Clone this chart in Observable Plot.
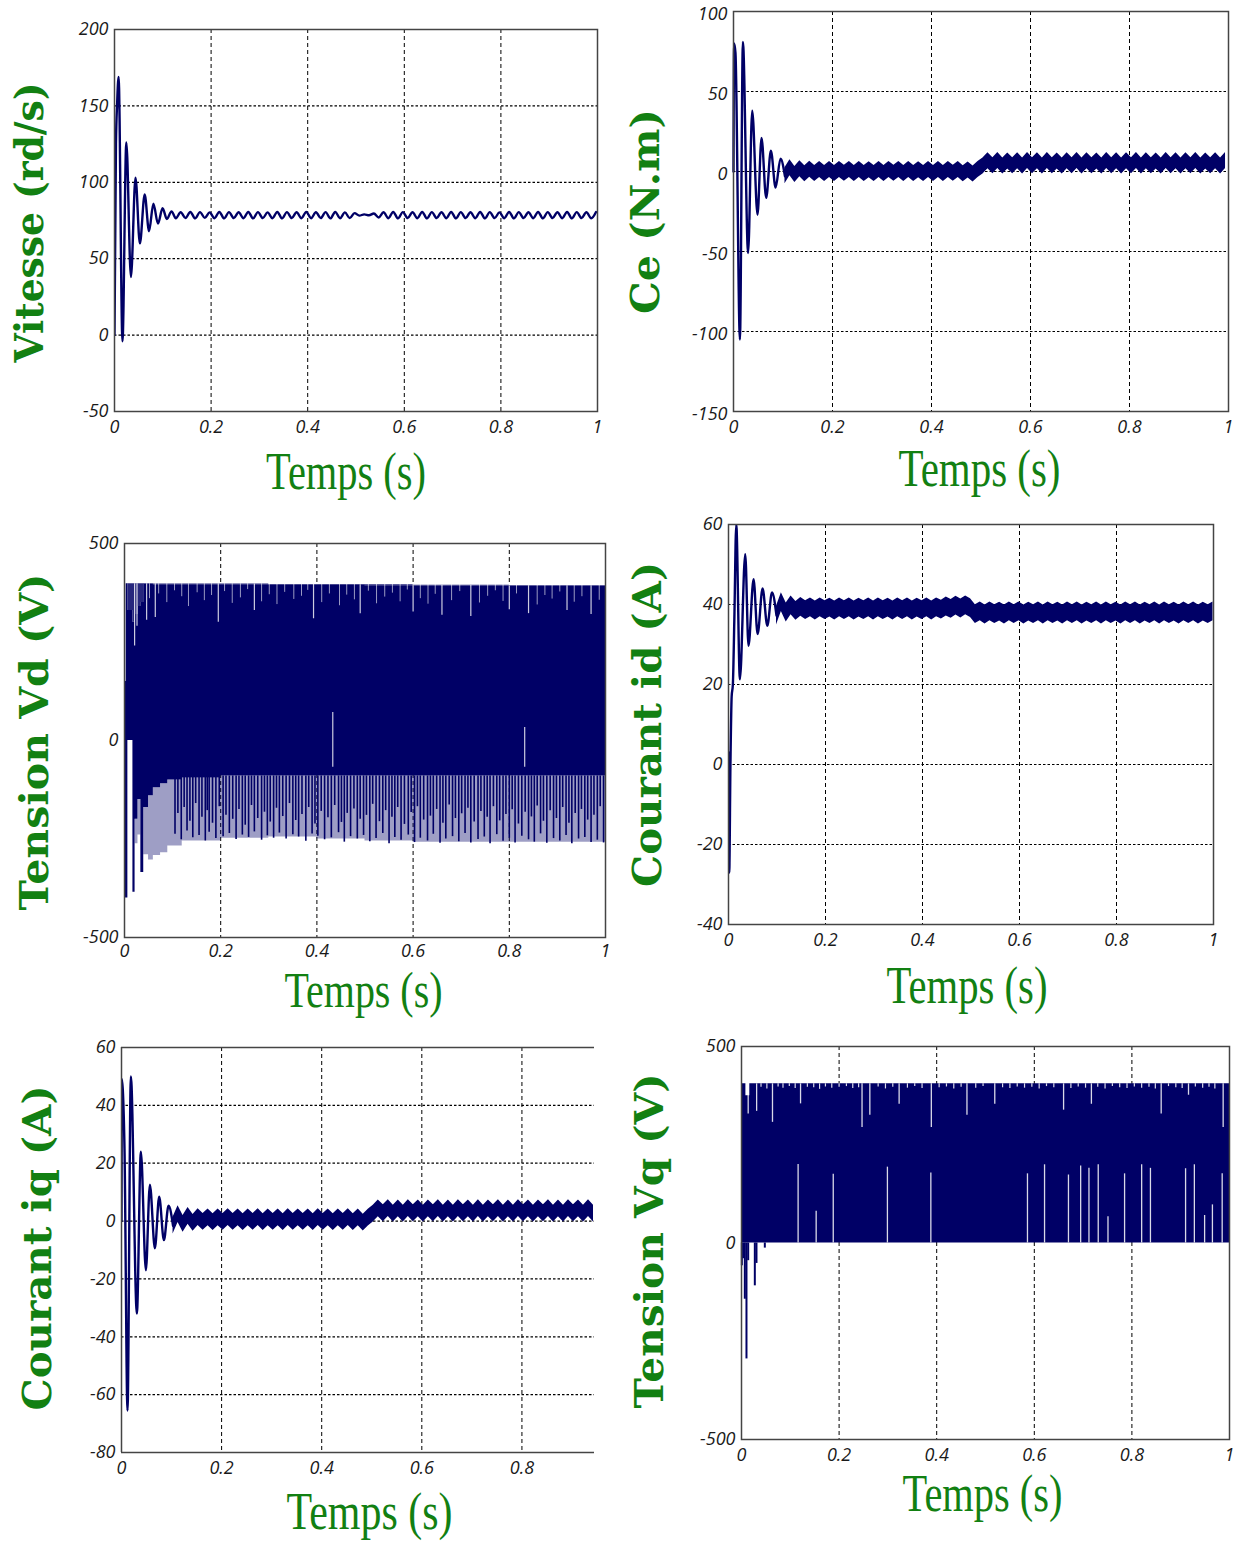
<!DOCTYPE html>
<html>
<head>
<meta charset="utf-8">
<script src="https://cdn.jsdelivr.net/npm/d3@7"></script>
<script src="https://cdn.jsdelivr.net/npm/@observablehq/plot@0.6"></script>
<style>
  html, body { margin: 0; padding: 0; background: #fff; }
  #fig { position: relative; width: 1236px; height: 1546px; overflow: hidden; background: #fff; }
  #fig svg { position: absolute; max-width: none !important; }
</style>
</head>
<body>
<div id="fig"></div>
<script>
// ---------------- labels & ticks ----------------
const xLabel = "Temps (s)";
const yLabels = ["Vitesse (rd/s)", "Ce (N.m)", "Tension Vd (V)", "Courant id (A)", "Courant iq (A)", "Tension Vq (V)"];
const xTicks = [0, 0.2, 0.4, 0.6, 0.8, 1];
const xTicksIq = [0, 0.2, 0.4, 0.6, 0.8];
const xGridTicks = [0.2, 0.4, 0.6, 0.8];
const yTicksSpeed = [-50, 0, 50, 100, 150, 200];
const yTicksCe = [-150, -100, -50, 0, 50, 100];
const yTicksV = [-500, 0, 500];
const yTicksId = [-40, -20, 0, 20, 40, 60];
const yTicksIq = [-80, -60, -40, -20, 0, 20, 40, 60];

// ---------------- Vitesse ----------------
const speedTransT = [0, 0.003, 0.0055, 0.0085, 0.0165, 0.0245, 0.034, 0.0435, 0.0525, 0.0625, 0.0715, 0.0805, 0.090, 0.0995, 0.1085, 0.118, 0.127];
const speedTransV = [0, 125, 152, 169, -4, 126, 38, 103, 60, 92, 68, 86, 73, 83, 76, 81, 76.5];
const speedRippleStart = 0.137, sampleStep = 0.01;
const speedRipple = [
  80.4, 76.6, 80.6, 76.4, 80.5, 76.7, 80.3, 76.5, 80.6, 76.4,
  80.5, 76.6, 80.4, 76.5, 80.6, 76.4, 80.5, 76.6, 80.3, 76.5,
  80.6, 76.4, 80.5, 76.6, 80.4, 76.5, 80.6, 76.5, 80.4, 76.6,
  80.5, 76.4, 80.6, 76.5, 80.3, 76.6, 79.8, 78.2, 79.0, 78.4,
  79.6, 77.0, 80.4, 76.5, 80.6, 76.4, 80.5, 76.6, 80.4, 76.5,
  80.6, 76.4, 80.5, 76.6, 80.4, 76.5, 80.6, 76.4, 80.5, 76.6,
  80.4, 76.5, 80.6, 76.4, 80.5, 76.6, 80.3, 76.5, 80.6, 76.4,
  80.5, 76.6, 80.4, 76.5, 80.6, 76.4, 80.5, 76.6, 80.4, 76.5,
  80.6, 76.4, 80.5, 76.6, 80.4, 76.5, 80.6
];

// ---------------- Ce ----------------
const ceTransT = [0, 0.0012, 0.004, 0.013, 0.019, 0.0295, 0.0378, 0.0485, 0.0566, 0.066, 0.0755, 0.085, 0.095, 0.104];
const ceTransV = [0, 80, 74, -105, 81, -51, 38, -27, 21, -16.5, 13, -10, 8, -3];
const ceBandStart = 0.104;
const ceBand = [
  -2.6, 2.3, -1.9, 1.7, -1.4, 1.4, -1.2, 1.3, -1.2, 1.2,
  -1.3, 1.2, -1.1, 1.3, -1.2, 1.2, -1.3, 1.1, -1.2, 1.3,
  -1.2, 1.2, -1.1, 1.2, -1.3, 1.3, -1.2, 1.1, -1.2, 1.2,
  -1.3, 1.2, -1.2, 1.3, -1.1, 1.2, -1.4, 1.0, -1.6, 1.2,
  3.4, 6.7, 3.6, 6.8, 3.5, 6.6, 3.6, 6.7, 3.4, 6.8,
  3.6, 6.7, 3.5, 6.8, 3.6, 6.6, 3.4, 6.7, 3.6, 6.8,
  3.5, 6.7, 3.6, 6.6, 3.4, 6.8, 3.6, 6.7, 3.5, 6.7,
  3.6, 6.8, 3.4, 6.7, 3.6, 6.6, 3.5, 6.8, 3.6, 6.7,
  3.4, 6.7, 3.6, 6.8, 3.5, 6.6, 3.6, 6.7, 3.4, 6.8
];

// ---------------- id ----------------
const idTransT = [0, 0.0015, 0.004, 0.0065, 0.009, 0.012, 0.016, 0.0235, 0.0345, 0.0412, 0.0517, 0.060, 0.0703, 0.080, 0.0897, 0.099];
const idTransV = [3, -27, 0, 17, 20, 36, 60, 21.3, 52.6, 29.7, 46.3, 32.6, 44, 34.7, 43, 37.2];
const idBandStart = 0.099;
const idBand = [
  37.2, 40.6, 38.0, 39.8, 38.4, 39.4, 38.6, 39.3, 38.5, 39.3,
  38.6, 39.2, 38.5, 39.3, 38.6, 39.3, 38.5, 39.2, 38.6, 39.3,
  38.5, 39.3, 38.6, 39.2, 38.5, 39.3, 38.6, 39.3, 38.5, 39.2,
  38.6, 39.3, 38.5, 39.3, 38.7, 39.5, 38.9, 39.7, 39.0, 39.8,
  39.1, 37.6, 38.3, 37.5, 38.3, 37.6, 38.2, 37.5, 38.3, 37.6,
  38.3, 37.5, 38.2, 37.6, 38.3, 37.5, 38.3, 37.6, 38.2, 37.5,
  38.3, 37.6, 38.3, 37.5, 38.2, 37.6, 38.3, 37.5, 38.3, 37.6,
  38.2, 37.5, 38.3, 37.6, 38.3, 37.5, 38.2, 37.6, 38.3, 37.5,
  38.3, 37.6, 38.2, 37.5, 38.3, 37.6, 38.3, 37.5, 38.2, 37.6, 38.3
];

// ---------------- iq ----------------
const iqTransT = [0, 0.0008, 0.003, 0.006, 0.012, 0.0187, 0.0307, 0.0387, 0.0487, 0.0567, 0.0667, 0.0753, 0.0847, 0.094, 0.103];
const iqTransV = [0, 49, 44, 25, -65.5, 50, -32, 24, -17, 12.6, -9.4, 8.4, -6.6, 5.3, -1.6];
const iqBandStart = 0.103;
const iqBand = [
  -1.6, 2.4, -1.0, 1.8, -0.6, 1.4, -0.3, 1.3, -0.4, 1.3,
  -0.3, 1.4, -0.3, 1.3, -0.4, 1.3, -0.3, 1.4, -0.4, 1.3,
  -0.3, 1.3, -0.4, 1.4, -0.3, 1.3, -0.3, 1.3, -0.4, 1.4,
  -0.3, 1.3, -0.4, 1.3, -0.3, 1.4, -0.4, 1.3, -0.5, 1.2,
  2.6, 4.4, 2.7, 4.5, 2.6, 4.4, 2.6, 4.5, 2.7, 4.4,
  2.6, 4.4, 2.7, 4.5, 2.6, 4.4, 2.6, 4.5, 2.7, 4.4,
  2.6, 4.5, 2.6, 4.4, 2.7, 4.5, 2.6, 4.4, 2.6, 4.5,
  2.7, 4.4, 2.6, 4.4, 2.7, 4.5, 2.6, 4.4, 2.6, 4.5,
  2.7, 4.4, 2.6, 4.5, 2.6
];

// ---------------- Vd (envelopes of the switching voltage) ----------------
const vdT         = [0,    0.0035, 0.007, 0.0175, 0.022, 0.028, 0.034, 0.040, 0.050, 0.060, 0.075, 0.090, 0.120, 0.200, 0.300, 0.400, 0.500, 0.600, 0.700, 0.800, 0.900, 1.000];
const vdOuterHigh = [150,  398,    398,   398,    398,   398,   398,   398,   398,   397,   397,   397,   397,   397,   396,   396,   395,   394,   394,   393,   393,   393];
const vdCoreHigh  = [150,  398,    330,   300,    320,   340,   350,   396,   396,   395,   395,   395,   395,   395,   394,   394,   393,   392,   392,   391,   391,   391];
const vdCoreLow   = [-400, -400,   0,     -385,   -200,  -150,  -335,  -170,  -140,  -120,  -110,  -100,  -95,   -90,   -90,   -90,   -90,   -90,   -90,   -90,   -90,   -90];
const vdOuterLow  = [-400, -400,   0,     -385,   -262,  -240,  -335,  -290,  -303,  -292,  -285,  -268,  -255,  -248,  -245,  -250,  -255,  -258,  -258,  -258,  -258,  -258];
const vdSpikeFrom = -90;
const vdSpikeT = [
  0.105, 0.118, 0.130, 0.142, 0.155, 0.168, 0.176, 0.190, 0.205, 0.218,
  0.232, 0.245, 0.258, 0.270, 0.285, 0.297, 0.310, 0.322, 0.336, 0.350,
  0.362, 0.377, 0.390, 0.402, 0.416, 0.430, 0.445, 0.457, 0.470, 0.484,
  0.497, 0.510, 0.523, 0.537, 0.550, 0.562, 0.575, 0.590, 0.603, 0.615,
  0.630, 0.642, 0.656, 0.668, 0.682, 0.695, 0.708, 0.720, 0.735, 0.748,
  0.760, 0.774, 0.787, 0.800, 0.812, 0.826, 0.840, 0.852, 0.865, 0.878,
  0.892, 0.905, 0.918, 0.930, 0.944, 0.957, 0.970, 0.983, 0.996
];
const vdSpikeV = [
  -238, -252, -230, -247, -241, -255, -233, -249, -244, -236,
  -251, -240, -246, -232, -253, -242, -248, -235, -250, -239,
  -245, -256, -237, -243, -252, -247, -234, -258, -244, -250,
  -241, -257, -249, -236, -262, -246, -253, -240, -259, -248,
  -255, -238, -261, -250, -244, -257, -236, -260, -251, -245,
  -262, -239, -256, -248, -260, -243, -252, -258, -237, -261,
  -249, -255, -241, -262, -250, -246, -259, -253, -260
];
const vdSpikeBT = [
  0.111, 0.124, 0.136, 0.148, 0.161, 0.172, 0.183, 0.197, 0.211, 0.225,
  0.238, 0.251, 0.264, 0.277, 0.291, 0.303, 0.316, 0.329, 0.343, 0.356,
  0.369, 0.383, 0.396, 0.409, 0.423, 0.437, 0.451, 0.463, 0.477, 0.490,
  0.503, 0.516, 0.530, 0.543, 0.556, 0.568, 0.582, 0.596, 0.609, 0.622,
  0.636, 0.649, 0.662, 0.675, 0.688, 0.701, 0.714, 0.727, 0.741, 0.754,
  0.767, 0.780, 0.793, 0.806, 0.819, 0.833, 0.846, 0.858, 0.871, 0.885,
  0.898, 0.911, 0.924, 0.937, 0.950, 0.963, 0.976, 0.989
];
const vdSpikeBV = [
  -185, -170, -205, -160, -195, -178, -210, -168, -190, -200,
  -175, -215, -165, -198, -182, -207, -172, -193, -160, -203,
  -188, -170, -212, -180, -196, -165, -208, -185, -174, -200,
  -190, -162, -206, -178, -195, -170, -213, -183, -168, -202,
  -192, -175, -210, -164, -198, -186, -172, -207, -180, -195,
  -168, -204, -188, -176, -212, -182, -194, -166, -205, -178,
  -198, -170, -210, -185, -175, -202, -190, -168
];
const vdTopGapT = [
  0.052, 0.071, 0.088, 0.104, 0.119, 0.133, 0.151, 0.166, 0.181, 0.208,
  0.224, 0.241, 0.256, 0.285, 0.301, 0.317, 0.333, 0.352, 0.368, 0.381,
  0.410, 0.426, 0.447, 0.462, 0.478, 0.507, 0.524, 0.541, 0.557, 0.573,
  0.588, 0.615, 0.631, 0.646, 0.680, 0.697, 0.738, 0.755, 0.771, 0.787,
  0.815, 0.858, 0.874, 0.889, 0.905, 0.935, 0.951, 0.987
];
const vdTopGapV = [
  360, 372, 350, 380, 365, 340, 375, 355, 368, 378,
  348, 362, 383, 352, 370, 345, 376, 358, 366, 381,
  350, 372, 342, 369, 357, 379, 347, 364, 374, 352,
  382, 360, 346, 371, 355, 378, 349, 366, 380, 353,
  372, 344, 368, 359, 377, 351, 365, 356
];
const vdGapT  = [0.433, 0.832, 0.021, 0.026, 0.046, 0.064, 0.195, 0.270, 0.393, 0.490, 0.600, 0.660, 0.720, 0.800, 0.840, 0.920, 0.970];
const vdGapLo = [-68,   -68,   240,   290,   305,   312,   300,   330,   309,   322,   326,   318,   315,   332,   322,   330,   320];
const vdGapHi = [71,    33,    398,   398,   398,   398,   398,   397,   396,   395,   394,   394,   394,   393,   393,   393,   393];

// ---------------- Vq ----------------
const vqT    = [0.002, 0.009, 0.017, 1.0];
const vqHigh = [405,   375,   405,   405];
const vqLow  = [0,     0,     0,     0];
const vqNegT = [0.0007, 0.004, 0.0068, 0.0102, 0.0137, 0.0273, 0.0307, 0.0478];
const vqNegV = [-58,    -40,   -143,   -295,   -45,    -109,   -52,    -13];
const vqTopGapT = [0.0137, 0.031, 0.0635, 0.121, 0.247, 0.263, 0.323, 0.389, 0.462, 0.519, 0.660, 0.717, 0.860, 0.916, 0.987];
const vqTopGapV = [328,    335,   307,    354,   294,   325,   353,   294,   325,   353,   338,   353,   328,   376,   294];
const vqNotchT = [
  0.040, 0.052, 0.075, 0.085, 0.098, 0.110, 0.135, 0.148, 0.160, 0.172,
  0.185, 0.200, 0.215, 0.228, 0.240, 0.280, 0.295, 0.310, 0.340, 0.355,
  0.370, 0.405, 0.420, 0.435, 0.450, 0.480, 0.495, 0.535, 0.550, 0.565,
  0.580, 0.595, 0.610, 0.625, 0.640, 0.675, 0.690, 0.705, 0.730, 0.745,
  0.760, 0.775, 0.790, 0.805, 0.820, 0.835, 0.848, 0.875, 0.890, 0.903,
  0.930, 0.945, 0.958, 0.970
];
const vqNotchV = [
  396, 392, 397, 394, 398, 393, 396, 395, 391, 397,
  394, 396, 398, 393, 395, 397, 392, 396, 394, 398,
  393, 395, 397, 392, 396, 394, 398, 395, 393, 397,
  394, 396, 392, 398, 395, 393, 397, 394, 396, 392,
  398, 395, 393, 397, 394, 396, 392, 398, 395, 393,
  397, 394, 396, 392
];
const vqBotGapT = [0.116, 0.153, 0.188, 0.299, 0.388, 0.586, 0.621, 0.670, 0.695, 0.712, 0.731, 0.751, 0.785, 0.820, 0.838, 0.910, 0.928, 0.949, 0.965, 0.985];
const vqBotGapV = [200,   81,    175,   193,   178,   176,   199,   173,   196,   190,   199,   67,    176,   199,   190,   189,   199,   70,    97,    176];

// ---------------- styles ----------------
const NAVY = "#000066";
const GREEN = "#128012";
const FRAME = "#444";
// half thickness (in data units) of the dense switching-ripple bands
const CE_HALF = 5.0, ID_HALF = 2.35, IQ_HALF = 2.9;

const pts = (ts, vs) => ts.map((t, i) => ({t, v: vs[i]}));
const sampled = (start, vs) => vs.map((v, i) => ({t: +(start + i * sampleStep).toFixed(4), v}));
const band = (rows, half) => Plot.areaY(rows, {x: "t", y1: d => d.v - half, y2: d => d.v + half, fill: NAVY, clip: true});

function build(p) {
  const marks = [
    Plot.gridX(p.xGrid, {stroke: "#000", strokeOpacity: 1, strokeWidth: 1, strokeDasharray: "4,3"}),
    ...(p.yGrid ? [Plot.gridY(p.yGrid, {stroke: "#000", strokeOpacity: 1, strokeWidth: 1.2, strokeDasharray: "2.5,2"})] : []),
    ...p.marks,
    ...(p.frameMarks || [Plot.frame({stroke: FRAME, strokeWidth: 1.5})]),
    Plot.axisX(p.xTicks, {tickSize: 0, tickPadding: p.xPad ?? 9, tickFormat: d => String(d), label: null}),
    Plot.axisY(p.yTicks, {tickSize: 0, tickPadding: 6, dy: p.yTickDy ?? 0, tickFormat: d => String(d), label: null}),
    Plot.text([xLabel], {text: d => d, frameAnchor: "bottom", lineAnchor: "bottom", textAnchor: "middle",
      dx: p.xdx, dy: p.xdy, fontFamily: "Liberation Serif", fontStyle: "normal", fontSize: p.xFs ?? 52, fill: GREEN}),
    Plot.text([p.yLabel], {text: d => d, frameAnchor: "left", rotate: -90, lineAnchor: "bottom", textAnchor: "middle",
      dx: p.ydx, dy: p.ydy, fontFamily: "DejaVu Serif", fontStyle: "normal", fontWeight: "bold", fontSize: 40, fill: GREEN})
  ];
  const svg = Plot.plot({
    width: p.w, height: p.h,
    marginLeft: p.m[0], marginRight: p.m[1], marginTop: p.m[2], marginBottom: p.m[3],
    x: {domain: p.xDomain}, y: {domain: p.yDomain},
    style: {background: "transparent", fontFamily: "'Open Sans', sans-serif", fontSize: "18px", fontStyle: "italic", color: "#1a1a1a", overflow: "visible"},
    marks
  });
  svg.querySelectorAll("text").forEach(t => {
    if (t.textContent === xLabel) { t.setAttribute("textLength", p.xLen); t.setAttribute("lengthAdjust", "spacingAndGlyphs"); }
    if (t.textContent === p.yLabel) { t.setAttribute("textLength", p.yLen); t.setAttribute("lengthAdjust", "spacingAndGlyphs"); }
  });
  svg.style.left = p.left + "px";
  svg.style.top = p.top + "px";
  document.getElementById("fig").appendChild(svg);
}

// ---------------- panels ----------------
build({
  left: 0, top: 0, w: 618, h: 515, m: [114, 21, 29, 104],
  xDomain: [0, 1], yDomain: [-50, 200], xTicks, yTicks: yTicksSpeed, xGrid: xGridTicks, yGrid: yTicksSpeed,
  yLabel: yLabels[0], xdx: -10, xdy: 77, xLen: 160, ydx: -72, ydy: 2, yLen: 280,
  marks: [
    Plot.line(pts(speedTransT, speedTransV).concat(sampled(speedRippleStart, speedRipple)),
      {x: "t", y: "v", stroke: NAVY, strokeWidth: 2.4, curve: "monotone-x", clip: true})
  ]
});

build({
  left: 618, top: 0, w: 618, h: 515, m: [115, 8, 11, 104],
  xDomain: [0, 1], yDomain: [-150, 100], xTicks, yTicks: yTicksCe, xGrid: xGridTicks, yGrid: yTicksCe,
  yLabel: yLabels[1], xdx: -1.5, xdy: 74, xLen: 162, ydx: -75, ydy: 0, yLen: 205, yTickDy: 3,
  marks: [
    Plot.line(pts(ceTransT, ceTransV), {x: "t", y: "v", stroke: NAVY, strokeWidth: 2.4, curve: "monotone-x"}),
    band(sampled(ceBandStart, ceBand), CE_HALF)
  ]
});

const vdRows = vdT.map((t, i) => ({t, oh: vdOuterHigh[i], ch: vdCoreHigh[i], cl: vdCoreLow[i], ol: vdOuterLow[i]}));
build({
  left: 0, top: 515, w: 618, h: 515, m: [124, 13, 28, 93],
  xDomain: [0, 1], yDomain: [-500, 500], xTicks, yTicks: yTicksV, xGrid: xGridTicks, yGrid: null,
  yLabel: yLabels[2], xdx: -1.5, xdy: 69, xLen: 158, xFs: 50, xPad: 7, ydx: -77, ydy: 1.5, yLen: 337,
  marks: [
    Plot.areaY(vdRows, {x: "t", y1: "ch", y2: "oh", fill: NAVY, fillOpacity: 0.85, curve: "step-after"}),
    Plot.areaY(vdRows, {x: "t", y1: "ol", y2: "cl", fill: NAVY, fillOpacity: 0.38, curve: "step-after"}),
    Plot.areaY(vdRows, {x: "t", y1: "cl", y2: "ch", fill: NAVY, curve: "step-after"}),
    Plot.ruleX(vdSpikeT.map((t, i) => ({t, a: vdSpikeFrom, b: vdSpikeV[i]})), {x: "t", y1: "a", y2: "b", stroke: NAVY, strokeWidth: 1.6}),
    Plot.ruleX(vdSpikeBT.map((t, i) => ({t, a: vdSpikeFrom, b: vdSpikeBV[i]})), {x: "t", y1: "a", y2: "b", stroke: NAVY, strokeWidth: 1.6}),
    Plot.ruleX(vdTopGapT.map((t, i) => ({t, a: vdTopGapV[i], b: 398})), {x: "t", y1: "a", y2: "b", stroke: "#fff", strokeWidth: 1, strokeOpacity: 0.6}),
    Plot.ruleX(vdGapT.map((t, i) => ({t, a: vdGapLo[i], b: vdGapHi[i]})), {x: "t", y1: "a", y2: "b", stroke: "#fff", strokeWidth: 1.2, strokeOpacity: 0.8})
  ]
});

build({
  left: 618, top: 515, w: 618, h: 515, m: [110, 23, 9, 106],
  xDomain: [0, 1], yDomain: [-40, 60], xTicks, yTicks: yTicksId, xGrid: xGridTicks, yGrid: yTicksId,
  yLabel: yLabels[3], xdx: -4, xdy: 78, xLen: 161, ydx: -68, ydy: 0, yLen: 325,
  marks: [
    Plot.line(pts(idTransT, idTransV), {x: "t", y: "v", stroke: NAVY, strokeWidth: 2.4, curve: "monotone-x", clip: true}),
    band(sampled(idBandStart, idBand), ID_HALF)
  ]
});

build({
  left: 0, top: 1030, w: 618, h: 516, m: [121, 24, 17, 94],
  xDomain: [0, 0.945], yDomain: [-80, 60], xTicks: xTicksIq, yTicks: yTicksIq, xGrid: xGridTicks, yGrid: yTicksIq,
  yLabel: yLabels[4], xdx: 11.5, xdy: 76, xLen: 166, ydx: -71, ydy: -2, yLen: 325,
  frameMarks: [
    Plot.ruleY([-80, 60], {stroke: FRAME, strokeWidth: 1.5}),
    Plot.ruleX([0], {stroke: FRAME, strokeWidth: 1.5})
  ],
  marks: [
    Plot.line(pts(iqTransT, iqTransV), {x: "t", y: "v", stroke: NAVY, strokeWidth: 2.4, curve: "monotone-x", clip: true}),
    band(sampled(iqBandStart, iqBand), IQ_HALF)
  ]
});

const vqRows = vqT.map((t, i) => ({t, hi: vqHigh[i], lo: vqLow[i]}));
build({
  left: 618, top: 1030, w: 618, h: 516, m: [123, 7, 16, 107],
  xDomain: [0, 1], yDomain: [-500, 500], xTicks, yTicks: yTicksV, xGrid: xGridTicks, yGrid: null,
  yLabel: yLabels[5], xdx: -3, xdy: 71, xLen: 160, ydx: -79, ydy: -2, yLen: 335,
  marks: [
    Plot.areaY(vqRows, {x: "t", y1: "lo", y2: "hi", fill: NAVY, curve: "step-after"}),
    Plot.ruleX(vqNegT.map((t, i) => ({t, a: 0, b: vqNegV[i]})), {x: "t", y1: "a", y2: "b", stroke: NAVY, strokeWidth: 2}),
    Plot.ruleX(vqTopGapT.map((t, i) => ({t, a: vqTopGapV[i], b: 405})), {x: "t", y1: "a", y2: "b", stroke: "#fff", strokeWidth: 1.3, strokeOpacity: 0.85}),
    Plot.ruleX(vqNotchT.map((t, i) => ({t, a: vqNotchV[i], b: 405})), {x: "t", y1: "a", y2: "b", stroke: "#fff", strokeWidth: 1.2, strokeOpacity: 0.85}),
    Plot.ruleX(vqBotGapT.map((t, i) => ({t, a: 0, b: vqBotGapV[i]})), {x: "t", y1: "a", y2: "b", stroke: "#fff", strokeWidth: 1.3, strokeOpacity: 0.85})
  ]
});
</script>
</body>
</html>
